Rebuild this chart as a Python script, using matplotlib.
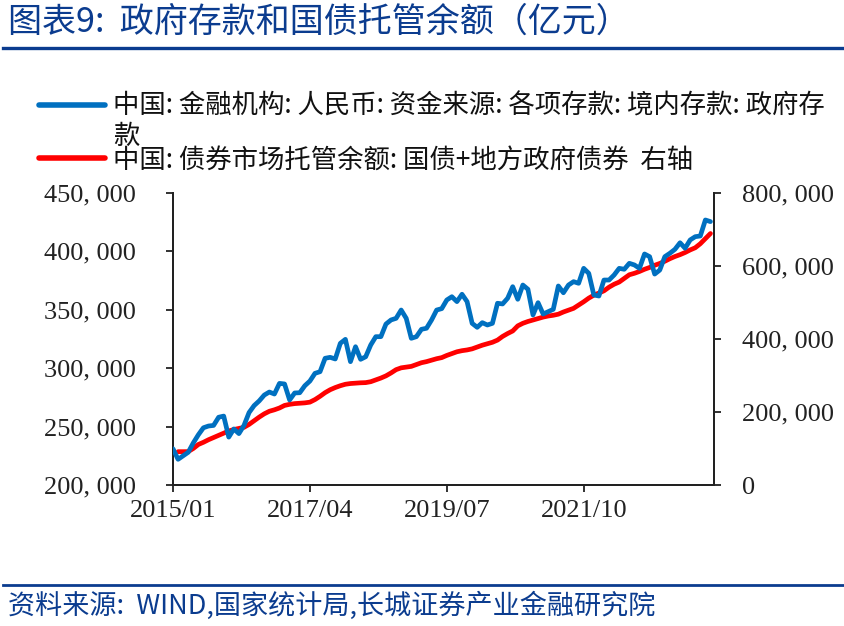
import matplotlib
matplotlib.use("Agg")
import matplotlib.pyplot as plt
from matplotlib.lines import Line2D
import numpy as np

plt.rcParams['font.family'] = ['Noto Sans CJK SC', 'DejaVu Sans']

# ---- data (monthly, 2015/01 .. 2023/11) ----
tick_labels = ["2015/01", "2017/04", "2019/07", "2021/10"]
tick_pos = [0, 27, 54, 81]

gov_deposits = [
    231000, 222000, 225000, 228000, 236000, 243000, 249000, 250500, 251000, 258000,
    259000, 241000, 248000, 244000, 251000, 262000, 268000, 272000, 277000, 279600,
    277900, 287000, 286500, 272800, 278800, 279000, 285000, 289000, 295600, 297000,
    308500, 309300, 307900, 321300, 324700, 305600, 318400, 307600, 309800, 319900,
    327000, 327000, 337800, 341300, 342700, 349800, 342700, 325600, 327000, 333300,
    334200, 341300, 349800, 351000, 358400, 361200, 357000, 363300, 357000, 338400,
    335000, 339000, 337000, 338400, 355600, 355000, 359900, 369800, 359000, 371200,
    367600, 345600, 356100, 346400, 348400, 350400, 370400, 364600, 371200, 374100,
    372700, 385500, 381200, 362700, 361800, 375500, 375500, 379800, 385500, 384700,
    389800, 388400, 385500, 397800, 395500, 380600, 384000, 395500, 398400, 401800,
    407400, 402700, 409800, 412600, 413200, 426900, 425500,
]

bond_custody = [
    np.nan, 91300, 91300, 91500, 100000, 111000, 117000, 124000, 130000, 136000,
    142000, 148000, 152000, 155000, 158000, 166000, 176000, 186000, 195000, 202000,
    206000, 211000, 218000, 221000, 223000, 224000, 225000, 227000, 234000, 243000,
    253000, 261000, 267000, 272000, 276000, 278000, 279000, 280000, 280500, 283000,
    288000, 293000, 299000, 307000, 316000, 321000, 323000, 325000, 330000, 335000,
    338000, 342000, 346000, 349000, 355000, 360000, 365000, 368000, 370000, 373000,
    378000, 383000, 387000, 391000, 397000, 407000, 415000, 422000, 436000, 443000,
    448000, 452000, 456000, 460000, 463000, 465000, 468000, 474000, 479000, 484000,
    493000, 502000, 512000, 520000, 526000, 532000, 542000, 550000, 556000, 566000,
    576000, 580000, 585000, 591000, 596000, 602000, 607000, 613000, 620000, 626000,
    631000, 637000, 644000, 650000, 661000, 675000, 689000,
]

left_ticks = [200000, 250000, 300000, 350000, 400000, 450000]
right_ticks = [0, 200000, 400000, 600000, 800000]

label_blue = "中国: 金融机构: 人民币: 资金来源: 各项存款: 境内存款: 政府存"
label_blue_wrap = "款"
label_red = "中国: 债券市场托管余额: 国债+地方政府债券  右轴"
title = "图表9:  政府存款和国债托管余额（亿元）"
source = "资料来源:  WIND,国家统计局,长城证券产业金融研究院"

BLUE = "#0070C0"
RED = "#FF0000"
NAVY = "#0B3C8F"

def fmt(v):
    if v == 0:
        return "0"
    s = f"{int(v):,}"
    return s.replace(",", ", ")

W, H = 844, 626
fig = plt.figure(figsize=(W / 100, H / 100), dpi=100)
ax = fig.add_axes([173 / W, 1 - 485 / H, (714 - 173) / W, (485 - 193) / H])
ax2 = ax.twinx()

x = np.arange(len(gov_deposits))
l1, = ax.plot(x, gov_deposits, color=BLUE, lw=3.4, solid_capstyle='round', solid_joinstyle='round', zorder=3)
x2 = np.arange(len(bond_custody))
l2, = ax2.plot(x2, bond_custody, color=RED, lw=3.4, solid_capstyle='round', solid_joinstyle='round', zorder=2)
ax.set_zorder(ax2.get_zorder() + 1)
ax.patch.set_visible(False)

ax.set_xlim(0, len(gov_deposits) - 0.3)
ax.set_ylim(200000, 450000)
ax2.set_ylim(0, 800000)

serif = 'Liberation Serif'
ax.set_yticks(left_ticks)
ax.set_yticklabels([fmt(v) for v in left_ticks], fontfamily=serif, fontsize=19)
ax2.set_yticks(right_ticks)
ax2.set_yticklabels([fmt(v) for v in right_ticks], fontfamily=serif, fontsize=19)
ax.set_xticks(tick_pos)
ax.set_xticklabels(tick_labels, fontfamily=serif, fontsize=19)

ax.tick_params(axis='y', direction='out', length=5, width=1.3, pad=22, colors='#222222')
ax2.tick_params(axis='y', direction='out', length=5, width=1.3, pad=15, colors='#222222')
ax.tick_params(axis='x', direction='out', length=5, width=1.3, pad=6, colors='#222222')

for a in (ax, ax2):
    a.spines['top'].set_visible(False)
    for s in ('left', 'right', 'bottom'):
        a.spines[s].set_linewidth(1.4)
        a.spines[s].set_color('#222222')

# legend
leg = fig.legend([l1, l2], [label_blue, label_red], loc='upper left',
                 bbox_to_anchor=(39 / W, 1 - 93 / H), frameon=False,
                 fontsize=19, handlelength=2.5, handletextpad=0.3,
                 labelspacing=1.0, borderaxespad=0, borderpad=0)
for t in leg.get_texts():
    t.set_color('#111111')
for h in leg.legend_handles:
    h.set_linewidth(4)
fig.text(113 / W, 1 - 136 / H, label_blue_wrap, fontsize=19, color='#111111', va='center', ha='left')

# title and source
fig.text(8 / W, 1 - 22 / H, title, fontsize=24.5, color=NAVY, va='center', ha='left', style='italic')
fig.add_artist(Line2D([3 / W, 1], [1 - 48 / H, 1 - 48 / H], color=NAVY, lw=2.4))
fig.add_artist(Line2D([3 / W, 1], [1 - 585 / H, 1 - 585 / H], color=NAVY, lw=2.0))
fig.text(8 / W, 1 - 606 / H, source, fontsize=19.5, color=NAVY, va='center', ha='left', style='italic')

fig.savefig("out.png", dpi=100)
